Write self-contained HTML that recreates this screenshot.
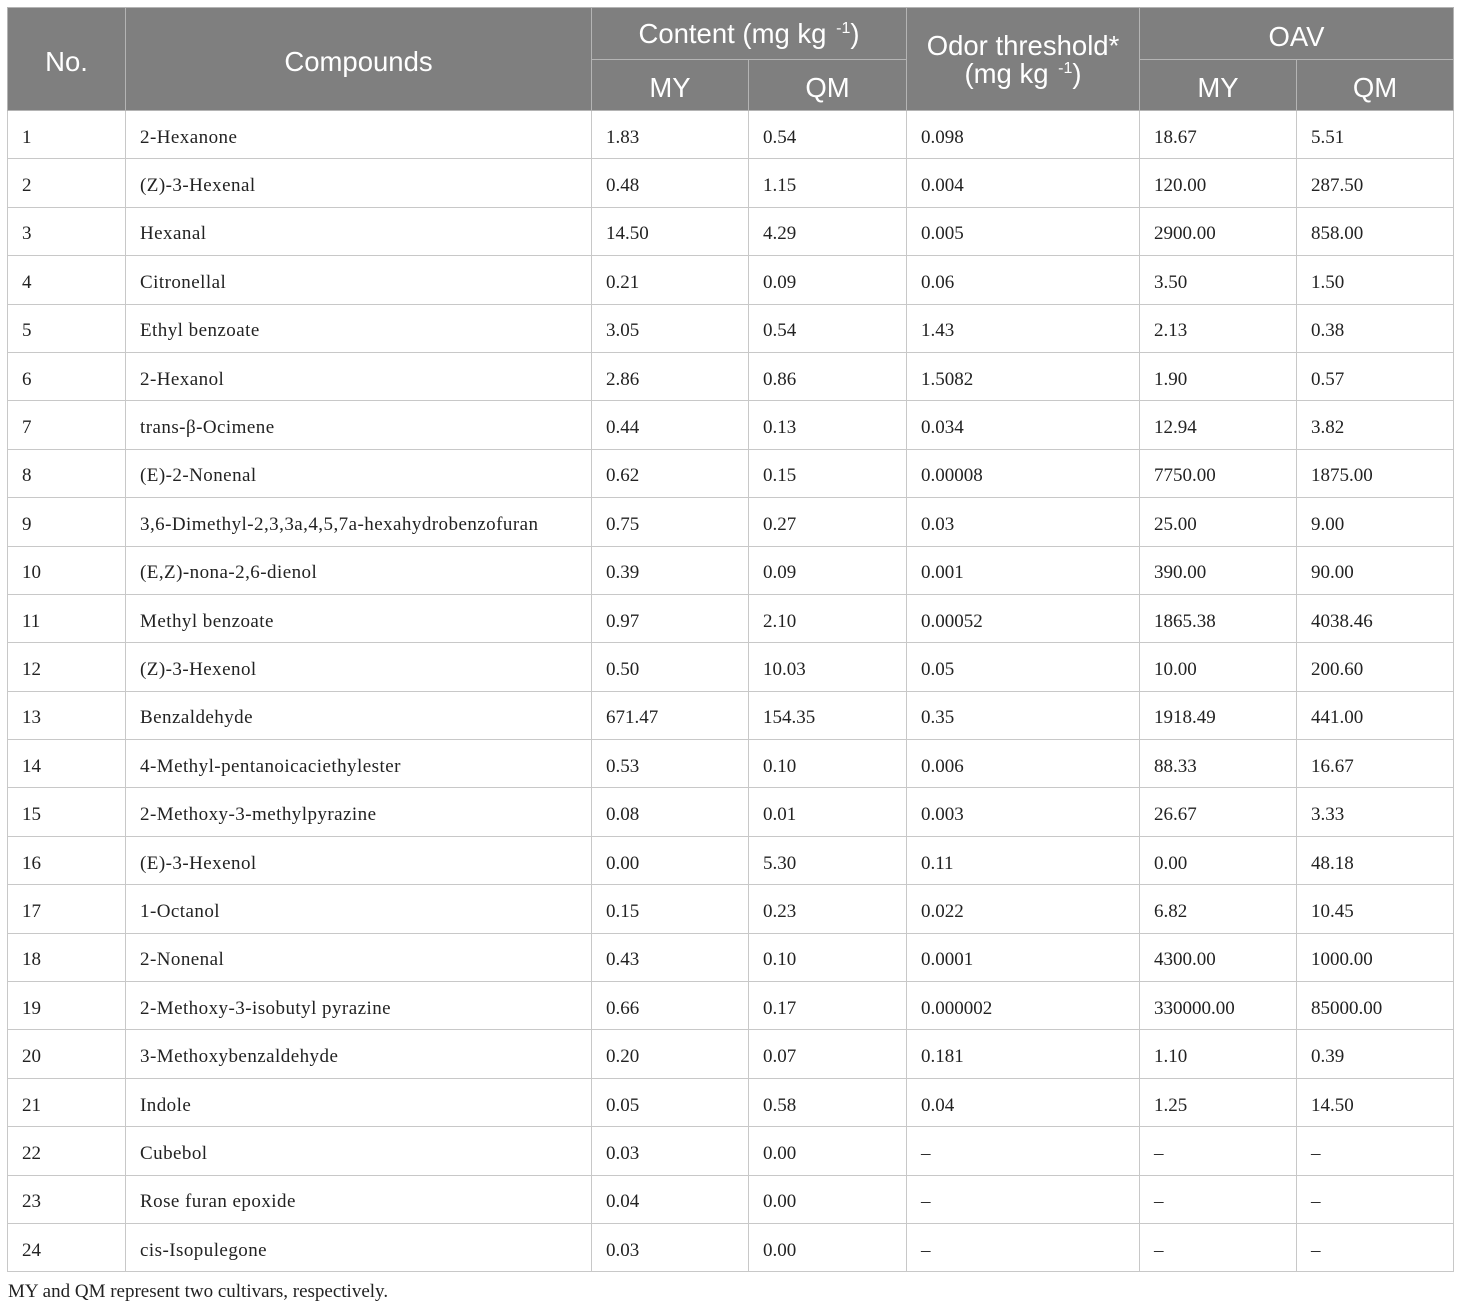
<!DOCTYPE html>
<html>
<head>
<meta charset="utf-8">
<style>
html,body{margin:0;padding:0;background:#fff;}
body{width:1460px;height:1309px;position:relative;overflow:hidden;}
table{position:absolute;left:7px;top:7px;border-collapse:collapse;table-layout:fixed;width:1446px;}
th{background:#7f7f7f;color:#fff;font-family:"Liberation Sans","DejaVu Sans",sans-serif;font-weight:normal;font-size:27.5px;text-align:center;vertical-align:middle;border:1px solid #b4b4b4;padding:0;line-height:28px;}
th > span.t{position:relative;top:3px;display:inline-block;}
td{font-family:"Liberation Serif",serif;font-size:19px;color:#222;border:1px solid #c8c8c8;padding:0 0 0 14px;height:47.4px;vertical-align:middle;white-space:nowrap;}
td span{position:relative;top:3px;}
td.c span{letter-spacing:0.45px;}
.sp{font-size:16px;position:relative;top:-10px;margin-left:2px;}
.foot{position:absolute;left:8px;top:1281px;font-family:"Liberation Serif",serif;font-size:19px;color:#222;}
tr.h1 th{height:51px;}
tr.h2 th{height:50px;}
</style>
</head>
<body>
<table>
<colgroup>
<col style="width:118px"><col style="width:466px"><col style="width:157px"><col style="width:158px"><col style="width:233px"><col style="width:157px"><col style="width:157px">
</colgroup>
<tr class="h1"><th rowspan="2"><span class="t">No.</span></th><th rowspan="2"><span class="t">Compounds</span></th><th colspan="2"><span class="t">Content (mg kg <span class="sp">-1</span>)</span></th><th rowspan="2"><span class="t">Odor threshold*<br>(mg kg <span class="sp">-1</span>)</span></th><th colspan="2"><span class="t">OAV</span></th></tr>
<tr class="h2"><th><span class="t">MY</span></th><th><span class="t">QM</span></th><th><span class="t">MY</span></th><th><span class="t">QM</span></th></tr>
<tr><td><span>1</span></td><td class="c"><span>2-Hexanone</span></td><td><span>1.83</span></td><td><span>0.54</span></td><td><span>0.098</span></td><td><span>18.67</span></td><td><span>5.51</span></td></tr>
<tr><td><span>2</span></td><td class="c"><span>(Z)-3-Hexenal</span></td><td><span>0.48</span></td><td><span>1.15</span></td><td><span>0.004</span></td><td><span>120.00</span></td><td><span>287.50</span></td></tr>
<tr><td><span>3</span></td><td class="c"><span>Hexanal</span></td><td><span>14.50</span></td><td><span>4.29</span></td><td><span>0.005</span></td><td><span>2900.00</span></td><td><span>858.00</span></td></tr>
<tr><td><span>4</span></td><td class="c"><span>Citronellal</span></td><td><span>0.21</span></td><td><span>0.09</span></td><td><span>0.06</span></td><td><span>3.50</span></td><td><span>1.50</span></td></tr>
<tr><td><span>5</span></td><td class="c"><span>Ethyl benzoate</span></td><td><span>3.05</span></td><td><span>0.54</span></td><td><span>1.43</span></td><td><span>2.13</span></td><td><span>0.38</span></td></tr>
<tr><td><span>6</span></td><td class="c"><span>2-Hexanol</span></td><td><span>2.86</span></td><td><span>0.86</span></td><td><span>1.5082</span></td><td><span>1.90</span></td><td><span>0.57</span></td></tr>
<tr><td><span>7</span></td><td class="c"><span>trans-β-Ocimene</span></td><td><span>0.44</span></td><td><span>0.13</span></td><td><span>0.034</span></td><td><span>12.94</span></td><td><span>3.82</span></td></tr>
<tr><td><span>8</span></td><td class="c"><span>(E)-2-Nonenal</span></td><td><span>0.62</span></td><td><span>0.15</span></td><td><span>0.00008</span></td><td><span>7750.00</span></td><td><span>1875.00</span></td></tr>
<tr><td><span>9</span></td><td class="c"><span>3,6-Dimethyl-2,3,3a,4,5,7a-hexahydrobenzofuran</span></td><td><span>0.75</span></td><td><span>0.27</span></td><td><span>0.03</span></td><td><span>25.00</span></td><td><span>9.00</span></td></tr>
<tr><td><span>10</span></td><td class="c"><span>(E,Z)-nona-2,6-dienol</span></td><td><span>0.39</span></td><td><span>0.09</span></td><td><span>0.001</span></td><td><span>390.00</span></td><td><span>90.00</span></td></tr>
<tr><td><span>11</span></td><td class="c"><span>Methyl benzoate</span></td><td><span>0.97</span></td><td><span>2.10</span></td><td><span>0.00052</span></td><td><span>1865.38</span></td><td><span>4038.46</span></td></tr>
<tr><td><span>12</span></td><td class="c"><span>(Z)-3-Hexenol</span></td><td><span>0.50</span></td><td><span>10.03</span></td><td><span>0.05</span></td><td><span>10.00</span></td><td><span>200.60</span></td></tr>
<tr><td><span>13</span></td><td class="c"><span>Benzaldehyde</span></td><td><span>671.47</span></td><td><span>154.35</span></td><td><span>0.35</span></td><td><span>1918.49</span></td><td><span>441.00</span></td></tr>
<tr><td><span>14</span></td><td class="c"><span>4-Methyl-pentanoicaciethylester</span></td><td><span>0.53</span></td><td><span>0.10</span></td><td><span>0.006</span></td><td><span>88.33</span></td><td><span>16.67</span></td></tr>
<tr><td><span>15</span></td><td class="c"><span>2-Methoxy-3-methylpyrazine</span></td><td><span>0.08</span></td><td><span>0.01</span></td><td><span>0.003</span></td><td><span>26.67</span></td><td><span>3.33</span></td></tr>
<tr><td><span>16</span></td><td class="c"><span>(E)-3-Hexenol</span></td><td><span>0.00</span></td><td><span>5.30</span></td><td><span>0.11</span></td><td><span>0.00</span></td><td><span>48.18</span></td></tr>
<tr><td><span>17</span></td><td class="c"><span>1-Octanol</span></td><td><span>0.15</span></td><td><span>0.23</span></td><td><span>0.022</span></td><td><span>6.82</span></td><td><span>10.45</span></td></tr>
<tr><td><span>18</span></td><td class="c"><span>2-Nonenal</span></td><td><span>0.43</span></td><td><span>0.10</span></td><td><span>0.0001</span></td><td><span>4300.00</span></td><td><span>1000.00</span></td></tr>
<tr><td><span>19</span></td><td class="c"><span>2-Methoxy-3-isobutyl pyrazine</span></td><td><span>0.66</span></td><td><span>0.17</span></td><td><span>0.000002</span></td><td><span>330000.00</span></td><td><span>85000.00</span></td></tr>
<tr><td><span>20</span></td><td class="c"><span>3-Methoxybenzaldehyde</span></td><td><span>0.20</span></td><td><span>0.07</span></td><td><span>0.181</span></td><td><span>1.10</span></td><td><span>0.39</span></td></tr>
<tr><td><span>21</span></td><td class="c"><span>Indole</span></td><td><span>0.05</span></td><td><span>0.58</span></td><td><span>0.04</span></td><td><span>1.25</span></td><td><span>14.50</span></td></tr>
<tr><td><span>22</span></td><td class="c"><span>Cubebol</span></td><td><span>0.03</span></td><td><span>0.00</span></td><td><span>–</span></td><td><span>–</span></td><td><span>–</span></td></tr>
<tr><td><span>23</span></td><td class="c"><span>Rose furan epoxide</span></td><td><span>0.04</span></td><td><span>0.00</span></td><td><span>–</span></td><td><span>–</span></td><td><span>–</span></td></tr>
<tr><td><span>24</span></td><td class="c"><span>cis-Isopulegone</span></td><td><span>0.03</span></td><td><span>0.00</span></td><td><span>–</span></td><td><span>–</span></td><td><span>–</span></td></tr>
</table>
<div class="foot">MY and QM represent two cultivars, respectively.</div>
</body>
</html>
